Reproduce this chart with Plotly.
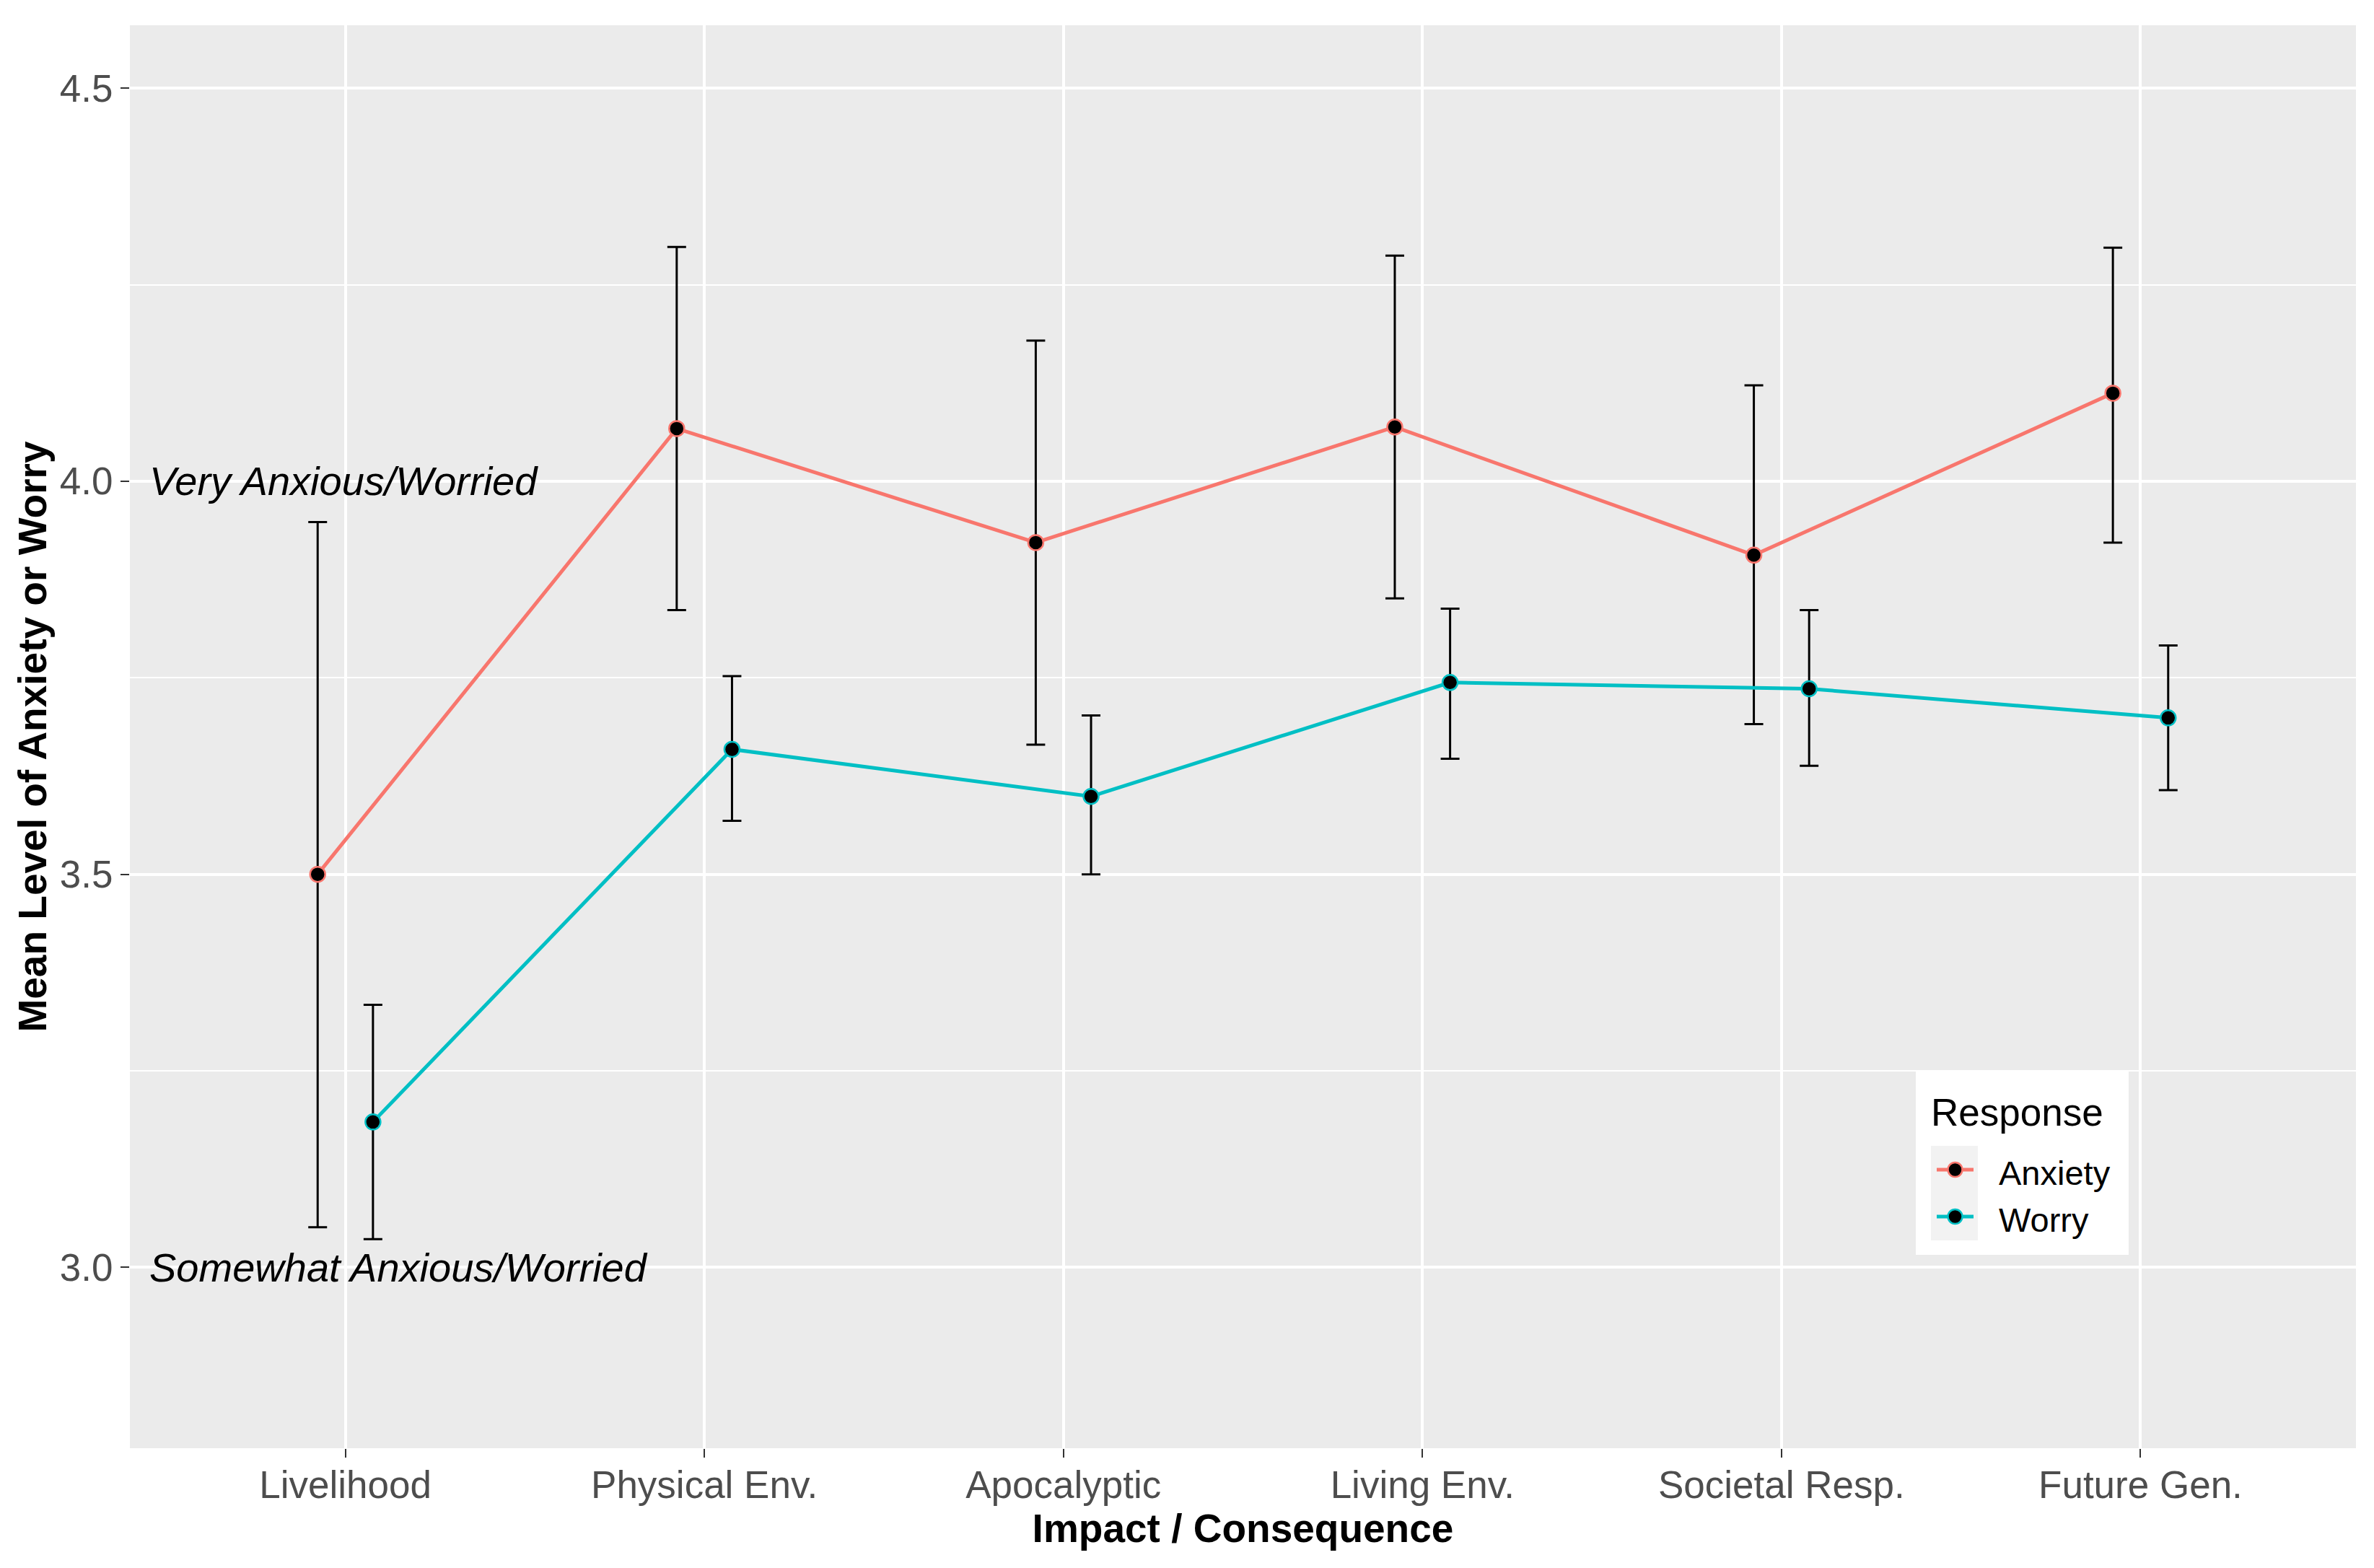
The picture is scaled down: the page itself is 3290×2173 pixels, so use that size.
import plotly.graph_objects as go

# ---- data ----
categories = ["Livelihood", "Physical Env.", "Apocalyptic", "Living Env.", "Societal Resp.", "Future Gen."]
anxiety_mean = [3.500, 4.067, 3.922, 4.069, 3.906, 4.112]
anxiety_upper = [3.948, 4.298, 4.179, 4.287, 4.122, 4.297]
anxiety_lower = [3.051, 3.836, 3.665, 3.851, 3.691, 3.922]
worry_mean = [3.185, 3.659, 3.599, 3.744, 3.736, 3.699]
worry_upper = [3.334, 3.752, 3.702, 3.838, 3.836, 3.791]
worry_lower = [3.036, 3.568, 3.500, 3.647, 3.638, 3.607]
y_ticks = [3.0, 3.5, 4.0, 4.5]
y_tick_labels = ["3.0", "3.5", "4.0", "4.5"]
ref_labels = ["Very Anxious/Worried", "Somewhat Anxious/Worried"]
ref_levels = [4.0, 3.0]
series_names = ["Anxiety", "Worry"]
series_colors = ["#F8766D", "#00BFC4"]

# ---- layout geometry (pixels) ----
W, H = 3290, 2173
ML, MR, MT, MB = 180, 25, 35, 166
PW, PH = W - ML - MR, H - MT - MB
FONT = "Liberation Sans, Arial, sans-serif"


def px(xp):
    return (xp - ML) / PW


def py(yp):
    return (H - MB - yp) / PH


series = [
    (series_names[0], anxiety_mean, anxiety_upper, anxiety_lower, series_colors[0], -0.077),
    (series_names[1], worry_mean, worry_upper, worry_lower, series_colors[1], 0.077),
]

fig = go.Figure()
for name, mean, up, lo, color, off in series:
    xs = [i + 1 + off for i in range(len(categories))]
    fig.add_trace(go.Scatter(
        x=xs, y=mean, name=name, mode="lines+markers", showlegend=False,
        line=dict(color=color, width=5),
        marker=dict(color="black", size=21, line=dict(color=color, width=2.5)),
        error_y=dict(type="data", symmetric=False,
                     array=[u - m for u, m in zip(up, mean)],
                     arrayminus=[m - l for m, l in zip(mean, lo)],
                     color="black", thickness=3, width=13),
    ))

for txt, lvl in zip(ref_labels, ref_levels):
    fig.add_annotation(x=0.45, y=lvl, xref="x", yref="y", text="<i>" + txt + "</i>",
                       showarrow=False, xanchor="left", yanchor="middle",
                       font=dict(family=FONT, size=56, color="black"))

# ---- legend (ggplot style: white box, grey key background) ----
shapes = []
shapes.append(dict(type="rect", xref="paper", yref="paper", layer="above",
                   x0=px(2655), x1=px(2950), y0=py(1739), y1=py(1485),
                   fillcolor="white", line=dict(width=0)))
shapes.append(dict(type="rect", xref="paper", yref="paper", layer="above",
                   x0=px(2676), x1=px(2741), y0=py(1719), y1=py(1588),
                   fillcolor="#F2F2F2", line=dict(width=0)))
key_y = [1621, 1686]
for name, color, ky in zip(series_names, series_colors, key_y):
    shapes.append(dict(type="line", xref="paper", yref="paper", layer="above",
                       x0=px(2684), x1=px(2735), y0=py(ky), y1=py(ky),
                       line=dict(color=color, width=5)))
    shapes.append(dict(type="circle", xref="paper", yref="paper", layer="above",
                       xsizemode="pixel", ysizemode="pixel",
                       xanchor=px(2709.5), yanchor=py(ky),
                       x0=-10, x1=10, y0=-10, y1=10,
                       fillcolor="black", line=dict(color=color, width=2.5)))
    fig.add_annotation(x=px(2768), y=py(ky + 4), xref="paper", yref="paper",
                       text=name, showarrow=False, xanchor="left", yanchor="middle",
                       font=dict(family=FONT, size=47, color="black"))
fig.add_annotation(x=px(2674), y=py(1541), xref="paper", yref="paper",
                   text="Response", showarrow=False, xanchor="left", yanchor="middle",
                   font=dict(family=FONT, size=53, color="black"))

fig.update_layout(
    width=W, height=H,
    paper_bgcolor="white", plot_bgcolor="#EBEBEB",
    margin=dict(l=ML, r=MR, t=MT, b=MB, autoexpand=False),
    font=dict(family=FONT, color="#4D4D4D"),
    showlegend=False,
    shapes=shapes,
)
fig.update_xaxes(
    range=[0.4, 6.6], tickmode="array",
    tickvals=list(range(1, len(categories) + 1)), ticktext=categories,
    showgrid=True, gridcolor="white", gridwidth=3.5, zeroline=False,
    ticks="outside", ticklen=12, tickwidth=2, tickcolor="#333333",
    tickfont=dict(size=53, color="#4D4D4D"), ticklabelstandoff=-8,
    title=dict(text="<b>Impact / Consequence</b>", font=dict(size=55, color="black"), standoff=8),
    showline=False,
)
fig.update_yaxes(
    range=[2.770, 4.580], tickmode="array", tickvals=y_ticks, ticktext=y_tick_labels,
    showgrid=True, gridcolor="white", gridwidth=3.5, zeroline=False,
    ticks="outside", ticklen=12, tickwidth=2, tickcolor="#333333",
    tickfont=dict(size=53, color="#4D4D4D"),
    minor=dict(tickmode="array", tickvals=[3.25, 3.75, 4.25], showgrid=True,
               gridcolor="white", gridwidth=1.8, ticks=""),
    title=dict(text="<b>Mean Level of Anxiety or Worry</b>", font=dict(size=55, color="black"), standoff=0),
    showline=False,
)

fig.write_html("out.html", config={"displayModeBar": False},
               post_script="document.body.style.margin='0';")
